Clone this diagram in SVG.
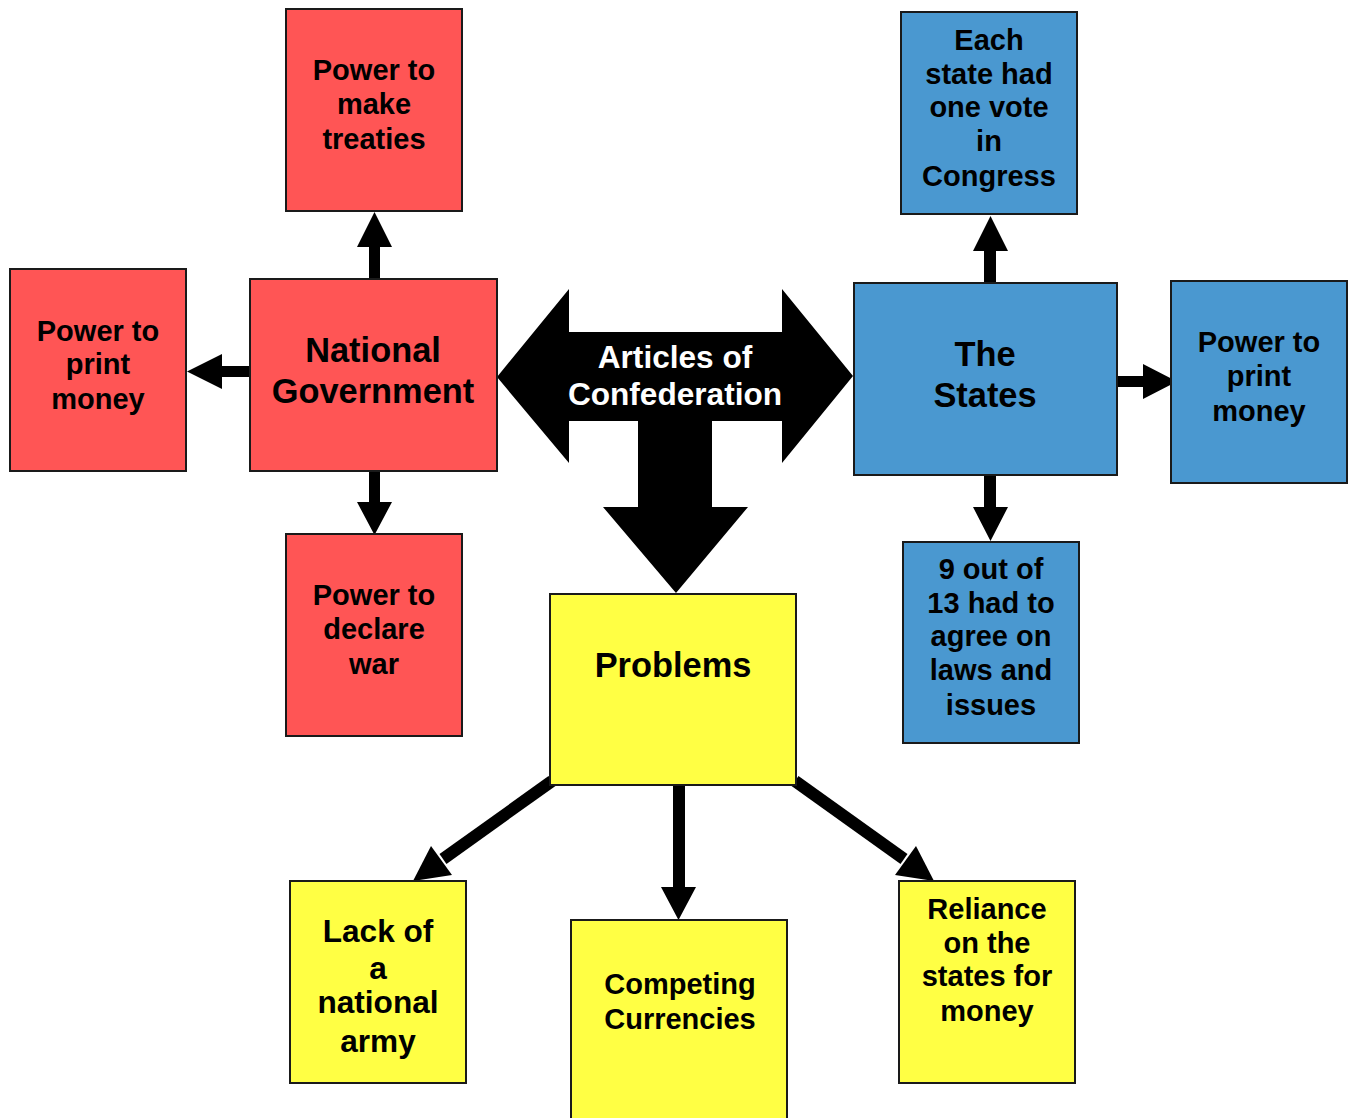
<svg xmlns="http://www.w3.org/2000/svg" width="1349" height="1118" viewBox="0 0 1349 1118">
<style>
  .box { stroke: #1a1a1a; stroke-width: 2; }
  .red { fill: #FF5555; }
  .blue { fill: #4A98D0; }
  .yel { fill: #FFFF44; }
  text { font-family: "Liberation Sans", Arial, sans-serif; font-weight: bold; fill: #000; text-anchor: middle; }
  .s { font-size: 29px; }
  .l { font-size: 34.4px; }
  .m { font-size: 31.6px; }
  .w { fill: #fff; }
  .conn { fill: #000; stroke: none; }
  .shaft { stroke: #000; stroke-width: 12; fill: none; }
</style>
<rect width="1349" height="1118" fill="#fff"/>
<g id="connectors">
  <polygon class="conn" points="369,279 369,247 357,247 374.5,212 392,247 380,247 380,279"/>
  <polygon class="conn" points="249,366 222,366 222,354 187,371.5 222,389 222,377 249,377"/>
  <polygon class="conn" points="369,471 369,502 357,502 374.5,535 392,502 380,502 380,471"/>
  <polygon class="conn" points="984,283 984,251 973,251 990.5,216 1008,251 996,251 996,283"/>
  <polygon class="conn" points="1117,376 1143,376 1143,364 1177,381.5 1143,399 1143,387 1117,387"/>
  <polygon class="conn" points="984,475 984,507 973,507 990.5,541 1008,507 996,507 996,475"/>
  <polygon class="conn" points="673,785 673,887 661,887 678.5,920 696,887 685,887 685,785"/>
  <line class="shaft" x1="552" y1="781" x2="443" y2="859"/>
  <polygon class="conn" points="413,881 431,846 452,875"/>
  <line class="shaft" x1="795" y1="781" x2="904" y2="859"/>
  <polygon class="conn" points="934,881 916,846 895,875"/>
</g>
<g id="articles">
  <polygon fill="#000" points="497,377 569,289 569,332 782,332 782,289 853,376 782,463 782,421 712,421 712,507 748,507 676,593 603,507 638,507 638,421 569,421 569,463"/>
  <text class="m w" x="675" y="368">Articles of</text>
  <text class="m w" x="675" y="405">Confederation</text>
</g>
<g id="national-government">
  <rect class="box red" x="250" y="279" width="247" height="192"/>
  <text class="l" x="373" y="362">National</text>
  <text class="l" x="373" y="403">Government</text>
</g>
<g id="ng-treaties">
  <rect class="box red" x="286" y="9" width="176" height="202"/>
  <text class="s" x="374" y="80">Power to</text>
  <text class="s" x="374" y="114">make</text>
  <text class="s" x="374" y="149">treaties</text>
</g>
<g id="ng-money">
  <rect class="box red" x="10" y="269" width="176" height="202"/>
  <text class="s" x="98" y="341">Power to</text>
  <text class="s" x="98" y="374">print</text>
  <text class="s" x="98" y="409">money</text>
</g>
<g id="ng-war">
  <rect class="box red" x="286" y="534" width="176" height="202"/>
  <text class="s" x="374" y="605">Power to</text>
  <text class="s" x="374" y="639">declare</text>
  <text class="s" x="374" y="674">war</text>
</g>
<g id="the-states">
  <rect class="box blue" x="854" y="283" width="263" height="192"/>
  <text class="l" x="985" y="366">The</text>
  <text class="l" x="985" y="407">States</text>
</g>
<g id="st-vote">
  <rect class="box blue" x="901" y="12" width="176" height="202"/>
  <text class="s" x="989" y="50">Each</text>
  <text class="s" x="989" y="84">state had</text>
  <text class="s" x="989" y="117">one vote</text>
  <text class="s" x="989" y="151">in</text>
  <text class="s" x="989" y="186">Congress</text>
</g>
<g id="st-money">
  <rect class="box blue" x="1171" y="281" width="176" height="202"/>
  <text class="s" x="1259" y="352">Power to</text>
  <text class="s" x="1259" y="386">print</text>
  <text class="s" x="1259" y="421">money</text>
</g>
<g id="st-nine">
  <rect class="box blue" x="903" y="542" width="176" height="201"/>
  <text class="s" x="991" y="579">9 out of</text>
  <text class="s" x="991" y="613">13 had to</text>
  <text class="s" x="991" y="646">agree on</text>
  <text class="s" x="991" y="680">laws and</text>
  <text class="s" x="991" y="715">issues</text>
</g>
<g id="problems">
  <rect class="box yel" x="550" y="594" width="246" height="191"/>
  <text class="l" x="673" y="677">Problems</text>
</g>
<g id="pr-army">
  <rect class="box yel" x="290" y="881" width="176" height="202"/>
  <text class="m" x="378" y="942">Lack of</text>
  <text class="m" x="378" y="979">a</text>
  <text class="m" x="378" y="1013">national</text>
  <text class="m" x="378" y="1052">army</text>
</g>
<g id="pr-currencies">
  <rect class="box yel" x="571" y="920" width="216" height="210"/>
  <text class="s" x="680" y="994">Competing</text>
  <text class="s" x="680" y="1029">Currencies</text>
</g>
<g id="pr-reliance">
  <rect class="box yel" x="899" y="881" width="176" height="202"/>
  <text class="s" x="987" y="919">Reliance</text>
  <text class="s" x="987" y="953">on the</text>
  <text class="s" x="987" y="986">states for</text>
  <text class="s" x="987" y="1021">money</text>
</g>
</svg>
